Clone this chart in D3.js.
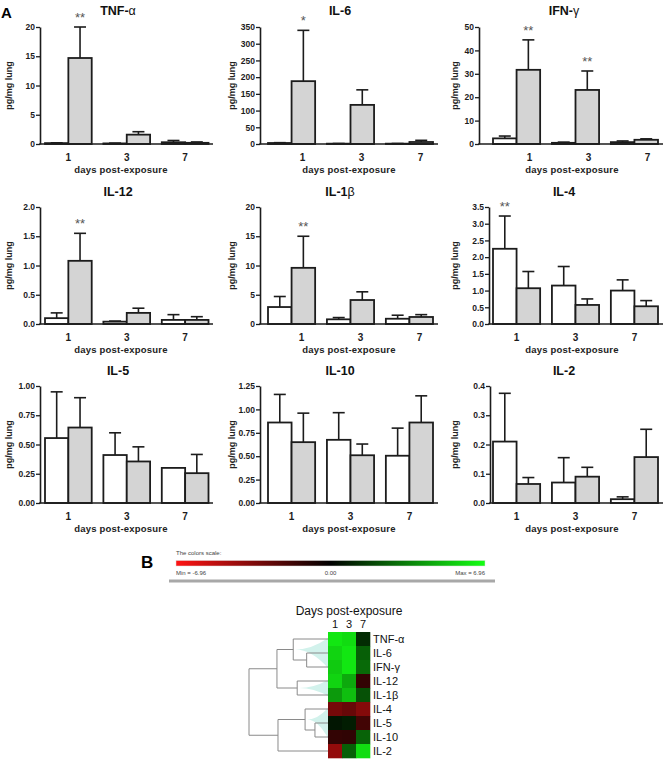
<!DOCTYPE html>
<html>
<head>
<meta charset="utf-8">
<script src="https://d3js.org/d3.v7.min.js"></script>
<style>
  body { margin: 0; background: #fff; }
  svg { display: block; font-family: Arial, "Liberation Sans", sans-serif; }
</style>
</head>
<body>
<div id="chart"></div>
<script>
const days = ["1", "3", "7"];
const cytokines = ["TNF-α", "IL-6", "IFN-γ", "IL-12", "IL-1β", "IL-4", "IL-5", "IL-10", "IL-2"];

// pg/mg lung, per day 1, 3, 7 (white = control, grey = exposed)
const controlMeans = [
  [0.15, 0.1, 0.3], [3, 1, 1], [2.4, 0.5, 0.8],
  [0.1, 0.04, 0.07], [2.9, 0.8, 0.9], [2.25, 1.15, 1.0],
  [0.555, 0.41, 0.3], [0.86, 0.675, 0.505], [0.21, 0.07, 0.013]
];
const controlErrors = [
  [0.05, 0.05, 0.3], [1, 0.5, 0.5], [1.0, 0.3, 0.5],
  [0.09, 0.01, 0.09], [1.8, 0.3, 0.6], [0.98, 0.57, 0.32],
  [0.395, 0.19, 0], [0.3, 0.29, 0.295], [0.165, 0.085, 0.008]
];
const exposedMeans = [
  [14.7, 1.6, 0.2], [188, 117, 6], [31.7, 23.1, 1.8],
  [1.08, 0.19, 0.07], [9.6, 4.1, 1.2], [1.07, 0.57, 0.53],
  [0.645, 0.355, 0.255], [0.65, 0.51, 0.86], [0.065, 0.09, 0.157]
];
const exposedErrors = [
  [5.3, 0.5, 0.15], [152, 45, 5], [12.8, 8.1, 0.4],
  [0.47, 0.08, 0.055], [5.4, 1.4, 0.4], [0.5, 0.18, 0.17],
  [0.255, 0.125, 0.16], [0.31, 0.12, 0.285], [0.022, 0.032, 0.095]
];
const yMaxima = [20, 350, 50, 2, 20, 3.5, 1, 1.25, 0.4];
const yTickSteps = [5, 50, 10, 0.5, 5, 0.5, 0.25, 0.25, 0.1];
const yTickFormats = [".0f", ".0f", ".0f", ".1f", ".0f", ".1f", ".2f", ".2f", ".1f"];
// [cytokine index, day index, series, mark]
const significance = [
  [0, 0, "exposed", "**"], [1, 0, "exposed", "*"],
  [2, 0, "exposed", "**"], [2, 1, "exposed", "**"],
  [3, 0, "exposed", "**"], [4, 0, "exposed", "**"],
  [5, 0, "control", "**"]
];

// heat map values, same row order as cytokines, columns day 1, 3, 7
const heatValues = [
  [6.3, 6.0, 1.2], [5.8, 6.3, 2.6], [5.5, 6.3, 2.9],
  [5.8, 4.6, -1.4], [4.2, 5.2, 2.2], [-3.2, -2.8, -3.6],
  [0.6, 0.8, -1.8], [-1.4, -1.3, 2.7], [-4.0, 2.6, 6.0]
];
const colorMin = -6.96;
const colorMax = 6.96;

// hierarchical clustering of the rows (height = linkage distance)
const clusterTree = {
  height: 1.0, children: [
    { height: 0.646, children: [
      { height: 0.44, highlight: true, children: [
        { name: "TNF-α" },
        { height: 0.27, children: [{ name: "IL-6" }, { name: "IFN-γ" }] }
      ] },
      { height: 0.39, highlight: true, children: [{ name: "IL-12" }, { name: "IL-1β" }] }
    ] },
    { height: 0.633, children: [
      { height: 0.29, highlight: true, children: [
        { name: "IL-4" },
        { height: 0.165, children: [{ name: "IL-5" }, { name: "IL-10" }] }
      ] },
      { name: "IL-2" }
    ] }
  ]
};

const width = 664;
const height = 759;
const ink = "#1c1c1c";

const rowTops = [27, 207, 386];
const plotHeight = 117;
const columns = [
  { barStart: 45, barEnd: 208.5, axisEnd: 213, yLabelX: 9, titleX: 118, xLabelX: 121 },
  { barStart: 268, barEnd: 433, axisEnd: 438, yLabelX: 232, titleX: 340, xLabelX: 349 },
  { barStart: 493, barEnd: 658, axisEnd: 663, yLabelX: 455, titleX: 564, xLabelX: 572 }
];
const axisPositions = [40, 260, 479, 40, 260, 489, 40, 260, 490];
const tickLabelShifts = [0, 11, 13, 0, 10, 0, 0, 0, 0];

const svg = d3.select("#chart").append("svg")
  .attr("width", width)
  .attr("height", height)
  .attr("viewBox", [0, 0, width, height]);

svg.append("text")
  .attr("x", 1).attr("y", 17.5)
  .style("font-size", "15px").style("font-weight", "bold")
  .text("A");

/**
 * Writes a cytokine name, with the greek letter in normal weight.
 */
function appendName(text, name) {
  const greek = name.match(/[α-ω]$/);
  if (greek) {
    text.append("tspan").text(name.slice(0, -1));
    text.append("tspan").style("font-weight", "normal").text(greek[0]);
  } else {
    text.text(name);
  }
}

function drawBarPanel(index) {
  const row = Math.floor(index / 3);
  const col = columns[index % 3];
  const top = rowTops[row];
  const bottom = top + plotHeight;
  const axisX = axisPositions[index];
  const g = svg.append("g");

  const y = d3.scaleLinear().domain([0, yMaxima[index]]).range([bottom, top]);
  const x = d3.scaleBand().domain(days).range([col.barStart, col.barEnd]).paddingInner(0.2);
  const series = d3.scaleBand().domain(["control", "exposed"]).range([0, x.bandwidth()]);

  const bars = days.flatMap((day, i) => [
    { day, key: "control", mean: controlMeans[index][i], err: controlErrors[index][i] },
    { day, key: "exposed", mean: exposedMeans[index][i], err: exposedErrors[index][i] }
  ]);
  const barX = (d) => x(d.day) + series(d.key);

  // error bars (upper half only)
  const errG = g.append("g").attr("stroke", ink).attr("stroke-width", 1.6);
  errG.selectAll("line.err")
    .data(bars.filter((d) => d.err > 0))
    .join("line")
    .attr("x1", (d) => barX(d) + series.bandwidth() / 2)
    .attr("x2", (d) => barX(d) + series.bandwidth() / 2)
    .attr("y1", (d) => y(d.mean))
    .attr("y2", (d) => y(d.mean + d.err));
  errG.selectAll("line.cap")
    .data(bars.filter((d) => d.err > 0))
    .join("line")
    .attr("x1", (d) => barX(d) + series.bandwidth() / 2 - 6)
    .attr("x2", (d) => barX(d) + series.bandwidth() / 2 + 6)
    .attr("y1", (d) => y(d.mean + d.err))
    .attr("y2", (d) => y(d.mean + d.err));

  g.append("g")
    .selectAll("rect")
    .data(bars)
    .join("rect")
    .attr("x", barX)
    .attr("y", (d) => y(d.mean))
    .attr("width", series.bandwidth())
    .attr("height", (d) => Math.max(0, bottom - y(d.mean)))
    .attr("fill", (d) => d.key === "control" ? "#ffffff" : "#d4d4d4")
    .attr("stroke", ink)
    .attr("stroke-width", 1.8);

  // y axis
  const ticks = d3.range(0, yMaxima[index] + yTickSteps[index] / 2, yTickSteps[index]);
  const axis = g.append("g")
    .attr("transform", `translate(${axisX},0)`)
    .call(d3.axisLeft(y).tickValues(ticks).tickFormat(d3.format(yTickFormats[index])).tickSize(4).tickSizeOuter(0));
  axis.select(".domain").attr("stroke", ink).attr("stroke-width", 1.6);
  axis.selectAll(".tick line").attr("stroke", ink).attr("stroke-width", 1.3);
  axis.selectAll(".tick text")
    .attr("x", -5)
    .style("font-size", "8.5px").style("font-weight", "bold")
    .style("font-family", "Arial, 'Liberation Sans', sans-serif")
    .attr("fill", ink);

  // x axis line and day labels
  g.append("line")
    .attr("x1", axisX - 0.8).attr("x2", col.axisEnd)
    .attr("y1", bottom).attr("y2", bottom)
    .attr("stroke", ink).attr("stroke-width", 1.6);
  g.append("g")
    .selectAll("text")
    .data(days)
    .join("text")
    .attr("x", (d) => x(d) + x.bandwidth() / 2 + tickLabelShifts[index])
    .attr("y", bottom + 16.5)
    .attr("text-anchor", "middle")
    .style("font-size", "10px").style("font-weight", "bold")
    .attr("fill", ink)
    .text((d) => d);

  g.append("text")
    .attr("x", col.xLabelX)
    .attr("y", bottom + 28.5)
    .attr("text-anchor", "middle")
    .style("font-size", "9.5px").style("font-weight", "bold")
    .style("letter-spacing", "0.2px")
    .attr("fill", "#222")
    .text("days post-exposure");

  g.append("text")
    .attr("transform", `translate(${col.yLabelX + 3},${(top + bottom) / 2}) rotate(-90)`)
    .attr("text-anchor", "middle")
    .style("font-size", "9px").style("font-weight", "bold")
    .attr("fill", "#222")
    .text("pg/mg lung");

  const title = g.append("text")
    .attr("x", col.titleX)
    .attr("y", top - 12.5 - (row === 0 ? 0 : -1))
    .attr("text-anchor", "middle")
    .style("font-size", "12.5px").style("font-weight", "bold")
    .attr("fill", "#111");
  appendName(title, cytokines[index]);

  // significance marks
  g.append("g")
    .selectAll("text")
    .data(significance.filter((s) => s[0] === index))
    .join("text")
    .attr("x", (s) => x(days[s[1]]) + series(s[2]) + series.bandwidth() / 2)
    .attr("y", (s) => {
      const mean = s[2] === "control" ? controlMeans[index][s[1]] : exposedMeans[index][s[1]];
      const err = s[2] === "control" ? controlErrors[index][s[1]] : exposedErrors[index][s[1]];
      return y(mean + err) - 5;
    })
    .attr("text-anchor", "middle")
    .style("font-size", "13px")
    .attr("fill", "#555")
    .text((s) => s[3]);
}

cytokines.forEach((_, i) => drawBarPanel(i));

// ---- panel B ----
svg.append("text")
  .attr("x", 141).attr("y", 568)
  .style("font-size", "17px").style("font-weight", "bold")
  .text("B");

const color = d3.scaleLinear()
  .domain([colorMin, 0, colorMax])
  .range(["#ff1414", "#000000", "#14ff14"]);

const gradient = svg.append("defs").append("linearGradient")
  .attr("id", "colorScale");
gradient.selectAll("stop")
  .data([colorMin, 0, colorMax])
  .join("stop")
  .attr("offset", (d) => `${(d - colorMin) / (colorMax - colorMin) * 100}%`)
  .attr("stop-color", (d) => color(d));

const legendX = d3.scaleLinear().domain([colorMin, colorMax]).range([176, 485]);
const legend = svg.append("g").style("font-size", "6px").attr("fill", "#444");
legend.append("text").attr("x", 176).attr("y", 555).text("The colors scale:");
legend.append("rect")
  .attr("x", legendX(colorMin)).attr("y", 560.5)
  .attr("width", legendX(colorMax) - legendX(colorMin)).attr("height", 5.5)
  .attr("fill", "url(#colorScale)")
  .attr("stroke", "#ddd").attr("stroke-width", 0.5);
legend.append("text").attr("x", legendX(colorMin)).attr("y", 575).text(`Min = ${colorMin.toFixed(2)}`);
legend.append("text").attr("x", legendX(0)).attr("y", 575).attr("text-anchor", "middle").text("0.00");
legend.append("text").attr("x", legendX(colorMax)).attr("y", 575).attr("text-anchor", "end").text(`Max = ${colorMax.toFixed(2)}`);
svg.append("rect")
  .attr("x", 169).attr("y", 579.5).attr("width", 326).attr("height", 3)
  .attr("fill", "#a8a8a8");

// heat map
const hx = d3.scaleBand().domain(days).range([328, 370]);
const hy = d3.scaleBand().domain(cytokines).range([632, 758]);

svg.append("text")
  .attr("x", 349).attr("y", 615)
  .attr("text-anchor", "middle")
  .style("font-size", "12px")
  .attr("fill", "#111")
  .text("Days post-exposure");
svg.append("g")
  .selectAll("text")
  .data(days)
  .join("text")
  .attr("x", (d) => hx(d) + hx.bandwidth() / 2)
  .attr("y", 628)
  .attr("text-anchor", "middle")
  .style("font-size", "11px")
  .attr("fill", "#111")
  .text((d) => d);

const cells = cytokines.flatMap((name, r) => days.map((day, c) => ({ name, day, value: heatValues[r][c] })));
svg.append("g")
  .selectAll("rect")
  .data(cells)
  .join("rect")
  .attr("x", (d) => hx(d.day))
  .attr("y", (d) => hy(d.name))
  .attr("width", hx.bandwidth() + 0.3)
  .attr("height", hy.bandwidth() + 0.3)
  .attr("fill", (d) => color(d.value));

svg.append("g")
  .selectAll("text")
  .data(cytokines)
  .join("text")
  .attr("x", 373)
  .attr("y", (d) => hy(d) + hy.bandwidth() / 2 + 4)
  .style("font-size", "11px")
  .attr("fill", "#111")
  .text((d) => d);

// dendrogram
const root = d3.hierarchy(clusterTree);
const hScale = d3.scaleLinear().domain([0, root.data.height]).range([328, 249]);
root.eachAfter((node) => {
  if (node.children) {
    node.py = d3.mean(node.children, (c) => c.py);
    node.px = hScale(node.data.height);
  } else {
    node.py = hy(node.data.name) + hy.bandwidth() / 2;
    node.px = hScale(0);
  }
});

const wedgeG = svg.append("g").attr("fill", "#d2f2ec");
root.descendants().filter((n) => n.data.highlight).forEach((node) => {
  const leaves = node.leaves();
  const y0 = leaves[0].py - 1;
  const y1 = leaves[leaves.length - 1].py + 1;
  const tipX = node.px + 2;
  const edge = hScale(0);
  const midX = tipX + (edge - tipX) * 0.5;
  const path = d3.path();
  path.moveTo(tipX, node.py);
  path.quadraticCurveTo(midX, node.py, edge, y0);
  path.lineTo(edge, y1);
  path.quadraticCurveTo(midX, node.py, tipX, node.py);
  path.closePath();
  wedgeG.append("path").attr("d", path.toString());
});

const treeG = svg.append("g").attr("stroke", "#8a8a8a").attr("stroke-width", 1).attr("fill", "none");
root.descendants().filter((n) => n.children).forEach((node) => {
  const ys = node.children.map((c) => c.py);
  treeG.append("line")
    .attr("x1", node.px).attr("x2", node.px)
    .attr("y1", d3.min(ys)).attr("y2", d3.max(ys));
  node.children.forEach((child) => {
    treeG.append("line")
      .attr("x1", node.px).attr("x2", child.px)
      .attr("y1", child.py).attr("y2", child.py);
  });
});
</script>
</body>
</html>
